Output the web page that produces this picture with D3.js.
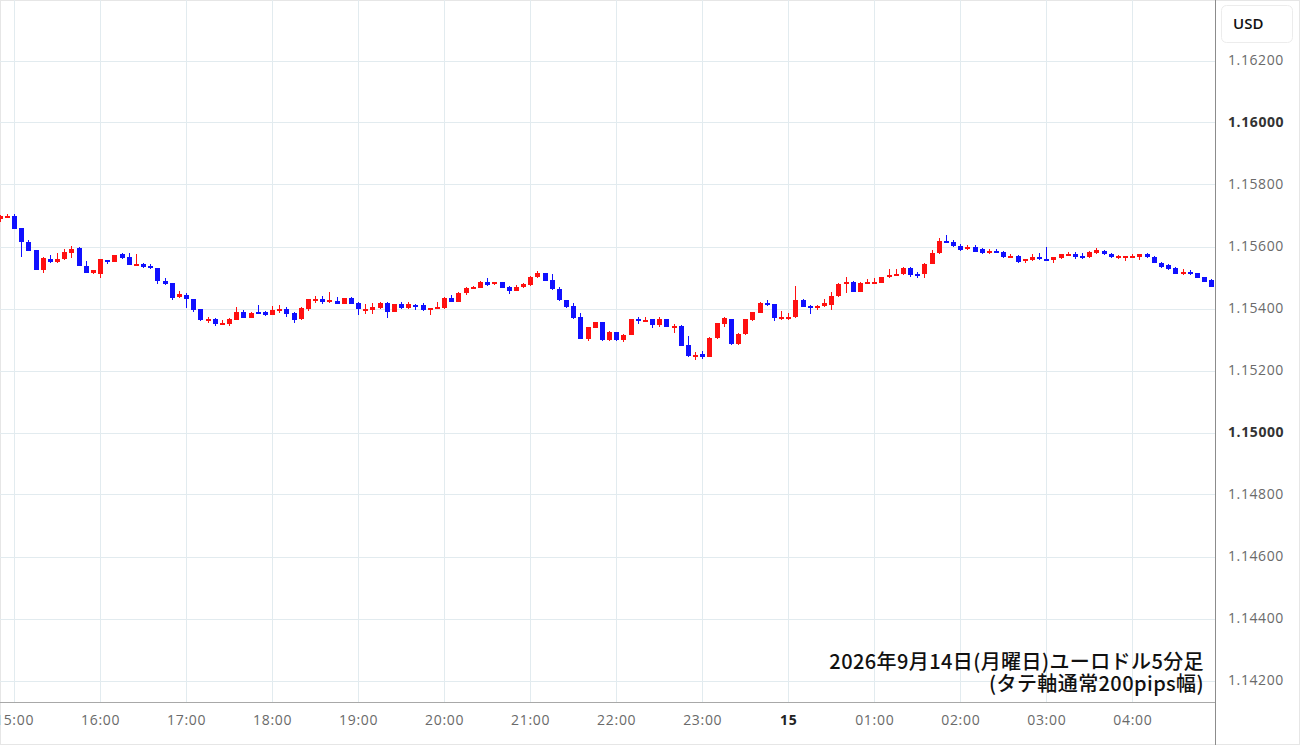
<!DOCTYPE html>
<html>
<head>
<meta charset="utf-8">
<script src="https://cdn.jsdelivr.net/npm/d3@7"></script>
<style>
  body { margin: 0; background: #fff; }
  svg { display: block; }
</style>
</head>
<body>
<script>
// EUR/USD 5-minute candles, 14:50 (14 Sep) to 04:55 (15 Sep)
const startTime = new Date(2026, 8, 14, 14, 50)
const intervalMinutes = 5

const opens = [
  1.15690, 1.15697, 1.15698, 1.15659, 1.15615, 1.15589, 1.15524, 1.15560, 1.15549, 1.15559,
  1.15580, 1.15594, 1.15538, 1.15514, 1.15511, 1.15556, 1.15551, 1.15575, 1.15565, 1.15541,
  1.15544, 1.15538, 1.15530, 1.15490, 1.15481, 1.15436, 1.15444, 1.15430, 1.15398, 1.15363,
  1.15365, 1.15350, 1.15350, 1.15363, 1.15390, 1.15370, 1.15389, 1.15388, 1.15379, 1.15396,
  1.15398, 1.15385, 1.15365, 1.15397, 1.15428, 1.15432, 1.15426, 1.15425, 1.15415, 1.15435,
  1.15419, 1.15396, 1.15395, 1.15403, 1.15419, 1.15390, 1.15414, 1.15401, 1.15412, 1.15410,
  1.15395, 1.15401, 1.15402, 1.15435, 1.15422, 1.15449, 1.15468, 1.15467, 1.15486, 1.15478,
  1.15484, 1.15470, 1.15457, 1.15468, 1.15476, 1.15501, 1.15514, 1.15492, 1.15463, 1.15427,
  1.15409, 1.15372, 1.15302, 1.15338, 1.15355, 1.15298, 1.15323, 1.15298, 1.15315, 1.15366,
  1.15362, 1.15365, 1.15347, 1.15365, 1.15342, 1.15344, 1.15282, 1.15248, 1.15253, 1.15245,
  1.15304, 1.15349, 1.15365, 1.15285, 1.15317, 1.15363, 1.15386, 1.15419, 1.15414, 1.15370,
  1.15370, 1.15372, 1.15427, 1.15409, 1.15401, 1.15408, 1.15411, 1.15440, 1.15479, 1.15486,
  1.15454, 1.15482, 1.15484, 1.15483, 1.15501, 1.15509, 1.15511, 1.15530, 1.15511, 1.15510,
  1.15544, 1.15578, 1.15619, 1.15615, 1.15602, 1.15591, 1.15597, 1.15591, 1.15584, 1.15586,
  1.15581, 1.15568, 1.15570, 1.15558, 1.15556, 1.15567, 1.15560, 1.15556, 1.15562, 1.15574,
  1.15576, 1.15568, 1.15565, 1.15578, 1.15585, 1.15576, 1.15566, 1.15567, 1.15568, 1.15565,
  1.15576, 1.15567, 1.15548, 1.15540, 1.15532, 1.15511, 1.15519, 1.15514, 1.15501, 1.15492
]
const highs = [
  1.15702, 1.15705, 1.15704, 1.15660, 1.15621, 1.15590, 1.15567, 1.15573, 1.15578, 1.15592,
  1.15602, 1.15599, 1.15554, 1.15525, 1.15560, 1.15558, 1.15574, 1.15580, 1.15578, 1.15575,
  1.15546, 1.15543, 1.15532, 1.15499, 1.15483, 1.15456, 1.15450, 1.15432, 1.15400, 1.15372,
  1.15368, 1.15362, 1.15368, 1.15405, 1.15396, 1.15390, 1.15410, 1.15393, 1.15408, 1.15411,
  1.15405, 1.15388, 1.15405, 1.15431, 1.15440, 1.15440, 1.15452, 1.15437, 1.15435, 1.15437,
  1.15421, 1.15415, 1.15418, 1.15420, 1.15422, 1.15416, 1.15420, 1.15420, 1.15416, 1.15417,
  1.15403, 1.15420, 1.15437, 1.15444, 1.15452, 1.15469, 1.15474, 1.15490, 1.15497, 1.15487,
  1.15486, 1.15474, 1.15477, 1.15481, 1.15504, 1.15521, 1.15516, 1.15510, 1.15470, 1.15429,
  1.15419, 1.15385, 1.15341, 1.15358, 1.15357, 1.15327, 1.15325, 1.15318, 1.15367, 1.15372,
  1.15371, 1.15367, 1.15374, 1.15367, 1.15350, 1.15346, 1.15311, 1.15260, 1.15262, 1.15308,
  1.15354, 1.15372, 1.15367, 1.15320, 1.15367, 1.15390, 1.15421, 1.15427, 1.15416, 1.15393,
  1.15385, 1.15473, 1.15430, 1.15412, 1.15412, 1.15431, 1.15454, 1.15481, 1.15503, 1.15490,
  1.15485, 1.15494, 1.15497, 1.15503, 1.15526, 1.15526, 1.15533, 1.15535, 1.15517, 1.15546,
  1.15589, 1.15628, 1.15637, 1.15620, 1.15608, 1.15605, 1.15604, 1.15594, 1.15593, 1.15593,
  1.15584, 1.15576, 1.15572, 1.15561, 1.15575, 1.15578, 1.15597, 1.15567, 1.15577, 1.15581,
  1.15581, 1.15578, 1.15584, 1.15594, 1.15588, 1.15578, 1.15573, 1.15570, 1.15575, 1.15577,
  1.15578, 1.15570, 1.15551, 1.15545, 1.15535, 1.15527, 1.15524, 1.15516, 1.15503, 1.15494
]
const lows = [
  1.15680, 1.15695, 1.15655, 1.15567, 1.15585, 1.15523, 1.15514, 1.15548, 1.15548, 1.15557,
  1.15562, 1.15536, 1.15514, 1.15511, 1.15497, 1.15542, 1.15550, 1.15560, 1.15539, 1.15540,
  1.15530, 1.15529, 1.15478, 1.15476, 1.15427, 1.15435, 1.15403, 1.15390, 1.15361, 1.15354,
  1.15345, 1.15348, 1.15345, 1.15362, 1.15368, 1.15368, 1.15386, 1.15377, 1.15378, 1.15386,
  1.15373, 1.15352, 1.15363, 1.15393, 1.15418, 1.15416, 1.15417, 1.15413, 1.15413, 1.15413,
  1.15379, 1.15383, 1.15383, 1.15400, 1.15368, 1.15388, 1.15399, 1.15399, 1.15395, 1.15393,
  1.15379, 1.15400, 1.15400, 1.15420, 1.15420, 1.15444, 1.15465, 1.15465, 1.15474, 1.15476,
  1.15466, 1.15446, 1.15455, 1.15466, 1.15474, 1.15499, 1.15488, 1.15460, 1.15423, 1.15403,
  1.15366, 1.15301, 1.15295, 1.15336, 1.15296, 1.15296, 1.15294, 1.15293, 1.15313, 1.15350,
  1.15356, 1.15338, 1.15340, 1.15340, 1.15322, 1.15278, 1.15245, 1.15234, 1.15237, 1.15243,
  1.15302, 1.15340, 1.15283, 1.15283, 1.15315, 1.15361, 1.15384, 1.15409, 1.15361, 1.15363,
  1.15363, 1.15370, 1.15404, 1.15382, 1.15396, 1.15406, 1.15395, 1.15438, 1.15449, 1.15452,
  1.15452, 1.15480, 1.15481, 1.15481, 1.15500, 1.15507, 1.15508, 1.15503, 1.15499, 1.15497,
  1.15542, 1.15576, 1.15615, 1.15600, 1.15584, 1.15589, 1.15581, 1.15577, 1.15575, 1.15578,
  1.15563, 1.15565, 1.15548, 1.15548, 1.15554, 1.15557, 1.15557, 1.15547, 1.15560, 1.15572,
  1.15560, 1.15560, 1.15563, 1.15576, 1.15573, 1.15564, 1.15560, 1.15552, 1.15563, 1.15556,
  1.15563, 1.15546, 1.15531, 1.15525, 1.15510, 1.15509, 1.15507, 1.15497, 1.15484, 1.15468
]
const closes = [
  1.15698, 1.15700, 1.15656, 1.15614, 1.15586, 1.15524, 1.15562, 1.15549, 1.15559, 1.15581,
  1.15592, 1.15537, 1.15515, 1.15524, 1.15559, 1.15549, 1.15573, 1.15562, 1.15540, 1.15543,
  1.15533, 1.15530, 1.15489, 1.15478, 1.15435, 1.15446, 1.15431, 1.15395, 1.15363, 1.15366,
  1.15351, 1.15353, 1.15365, 1.15390, 1.15370, 1.15386, 1.15387, 1.15379, 1.15395, 1.15399,
  1.15381, 1.15363, 1.15403, 1.15430, 1.15431, 1.15421, 1.15428, 1.15415, 1.15433, 1.15415,
  1.15397, 1.15399, 1.15406, 1.15417, 1.15390, 1.15414, 1.15401, 1.15414, 1.15409, 1.15395,
  1.15401, 1.15404, 1.15435, 1.15422, 1.15451, 1.15467, 1.15470, 1.15486, 1.15476, 1.15485,
  1.15467, 1.15457, 1.15470, 1.15479, 1.15501, 1.15515, 1.15490, 1.15462, 1.15427, 1.15406,
  1.15368, 1.15302, 1.15339, 1.15355, 1.15298, 1.15323, 1.15298, 1.15315, 1.15365, 1.15364,
  1.15364, 1.15347, 1.15365, 1.15341, 1.15345, 1.15280, 1.15247, 1.15251, 1.15245, 1.15306,
  1.15352, 1.15368, 1.15285, 1.15318, 1.15365, 1.15388, 1.15419, 1.15411, 1.15368, 1.15373,
  1.15373, 1.15427, 1.15406, 1.15405, 1.15408, 1.15417, 1.15440, 1.15479, 1.15486, 1.15454,
  1.15483, 1.15484, 1.15487, 1.15501, 1.15508, 1.15512, 1.15530, 1.15509, 1.15509, 1.15544,
  1.15578, 1.15618, 1.15617, 1.15602, 1.15589, 1.15597, 1.15583, 1.15578, 1.15586, 1.15584,
  1.15565, 1.15570, 1.15551, 1.15560, 1.15567, 1.15559, 1.15558, 1.15565, 1.15575, 1.15577,
  1.15565, 1.15566, 1.15581, 1.15589, 1.15575, 1.15565, 1.15568, 1.15569, 1.15570, 1.15575,
  1.15565, 1.15548, 1.15533, 1.15527, 1.15511, 1.15519, 1.15511, 1.15499, 1.15486, 1.15470
]

const priceTicks = [1.142, 1.144, 1.146, 1.148, 1.150, 1.152, 1.154, 1.156, 1.158, 1.160, 1.162]
const boldPriceTicks = [1.150, 1.160]
const captionLines = ['2026年9月14日(月曜日)ユーロドル5分足', '(タテ軸通常200pips幅)']
const currencyLabel = 'USD'

// layout
const width = 1300
const height = 745
const plotRight = 1215
const plotBottom = 702
const bodyWidth = 5
const upColor = '#ff1010'
const downColor = '#1010ff'
const gridColor = '#e2ebef'
const labelFont = '"Open Sans", "DejaVu Sans", sans-serif'

const candles = opens.map((o, i) => ({
  time: d3.timeMinute.offset(startTime, i * intervalMinutes),
  open: o,
  high: highs[i],
  low: lows[i],
  close: closes[i]
}))

// visible window runs a little before the first candle and after the last
const xScale = d3.scaleTime()
  .domain([new Date(2026, 8, 14, 14, 50, 12), new Date(2026, 8, 15, 4, 57, 40)])
  .range([0, plotRight])
const yScale = d3.scaleLinear()
  .domain([1.142, 1.162])
  .range([680.5, 60.5])

const svg = d3.select('body').append('svg')
  .attr('width', width)
  .attr('height', height)

svg.append('rect')
  .attr('x', 0.5).attr('y', 0.5)
  .attr('width', width - 1).attr('height', height - 1)
  .attr('fill', '#fff')
  .attr('stroke', '#e6e6e6')

const hourTicks = xScale.ticks(d3.timeHour.every(1))

// grid
const grid = svg.append('g').attr('shape-rendering', 'crispEdges')
grid.selectAll('.vgrid')
  .data(hourTicks)
  .enter().append('line')
  .attr('x1', d => Math.round(xScale(d)) + 0.5)
  .attr('x2', d => Math.round(xScale(d)) + 0.5)
  .attr('y1', 0)
  .attr('y2', plotBottom)
  .attr('stroke', gridColor)
grid.selectAll('.hgrid')
  .data(priceTicks)
  .enter().append('line')
  .attr('x1', 0)
  .attr('x2', plotRight)
  .attr('y1', d => Math.round(yScale(d)) + 0.5)
  .attr('y2', d => Math.round(yScale(d)) + 0.5)
  .attr('stroke', gridColor)

// candles
const candleG = svg.append('g').attr('shape-rendering', 'crispEdges')
const candle = candleG.selectAll('.candle')
  .data(candles)
  .enter().append('g')
  .attr('class', 'candle')
const colorOf = d => d.close >= d.open ? upColor : downColor

candle.append('line')
  .attr('x1', d => Math.round(xScale(d.time)) + 0.5)
  .attr('x2', d => Math.round(xScale(d.time)) + 0.5)
  .attr('y1', d => yScale(d.high))
  .attr('y2', d => yScale(d.low))
  .attr('stroke', colorOf)
  .attr('stroke-width', 1)

candle.append('rect')
  .attr('x', d => Math.round(xScale(d.time)) - (bodyWidth - 1) / 2)
  .attr('y', d => yScale(Math.max(d.open, d.close)))
  .attr('width', bodyWidth)
  .attr('height', d => Math.max(2, Math.abs(yScale(d.open) - yScale(d.close))))
  .attr('fill', colorOf)

// axis frame
svg.append('line')
  .attr('x1', 0).attr('x2', plotRight)
  .attr('y1', plotBottom + 0.5).attr('y2', plotBottom + 0.5)
  .attr('stroke', '#a8a8a8')
svg.append('line')
  .attr('x1', plotRight + 0.5).attr('x2', plotRight + 0.5)
  .attr('y1', 0).attr('y2', height)
  .attr('stroke', '#8c8c8c')

// price axis on the right
const yAxis = svg.append('g')
  .attr('transform', 'translate(' + (plotRight + 13) + ',0)')
  .call(d3.axisRight(yScale).tickValues(priceTicks).tickSize(0).tickPadding(0).tickFormat(d3.format('.5f')))
yAxis.select('.domain').remove()
yAxis.selectAll('text')
  .attr('font-family', labelFont)
  .attr('font-size', 14)
  .attr('letter-spacing', 0.6)
  .attr('fill', d => boldPriceTicks.some(b => Math.abs(b - d) < 1e-9) ? '#333' : '#6a6a6a')
  .attr('font-weight', d => boldPriceTicks.some(b => Math.abs(b - d) < 1e-9) ? 'bold' : 'normal')

// time axis at the bottom
const xAxis = svg.append('g')
  .attr('transform', 'translate(0,' + (plotBottom + 13) + ')')
  .call(d3.axisBottom(xScale).tickValues(hourTicks).tickSize(0).tickPadding(0)
    .tickFormat(d => d.getHours() === 0 ? d3.timeFormat('%-d')(d) : d3.timeFormat('%H:%M')(d)))
xAxis.select('.domain').remove()
xAxis.selectAll('text')
  .attr('font-family', labelFont)
  .attr('font-size', 14)
  .attr('letter-spacing', 0.7)
  .attr('fill', d => d.getHours() === 0 ? '#222' : '#6a6a6a')
  .attr('font-weight', d => d.getHours() === 0 ? 'bold' : 'normal')

// currency badge
svg.append('rect')
  .attr('x', 1221.5).attr('y', 5.5)
  .attr('width', 71).attr('height', 37)
  .attr('rx', 5)
  .attr('fill', '#fff')
  .attr('stroke', '#ececec')
svg.append('text')
  .attr('x', 1233).attr('y', 24)
  .attr('dy', '0.35em')
  .attr('font-family', labelFont)
  .attr('font-size', 15)
  .attr('font-weight', 600)
  .attr('fill', '#111')
  .text(currencyLabel)

// caption
svg.append('g').selectAll('text')
  .data(captionLines)
  .enter().append('text')
  .attr('x', 1204)
  .attr('y', (d, i) => 669 + i * 22)
  .attr('text-anchor', 'end')
  .attr('font-family', '"Noto Sans CJK JP", sans-serif')
  .attr('font-size', 20)
  .attr('font-weight', 500)
  .attr('letter-spacing', 0.4)
  .attr('fill', '#111')
  .text(d => d)
</script>
</body>
</html>
